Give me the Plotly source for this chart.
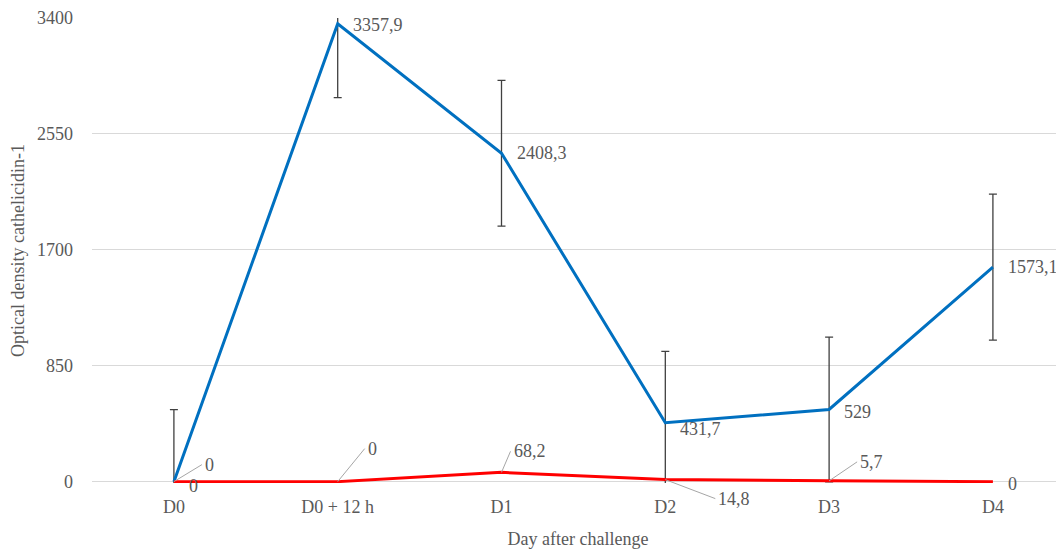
import plotly.graph_objects as go

categories = ["D0", "D0 + 12 h", "D1", "D2", "D3", "D4"]
blue_values = [0, 3357.9, 2408.3, 431.7, 529, 1573.1]
blue_errors = [528, 542, 535, 523, 531, 535]
red_values = [0, 0, 68.2, 14.8, 5.7, 0]
y_ticks = [0, 850, 1700, 2550, 3400]

FONT = "Liberation Serif"
GRAY = "#595959"
BLUE = "#0070C0"
RED = "#FF0000"
FS = 18

def fmt(v):
    return f"{v:g}".replace(".", ",")

x_idx = list(range(len(categories)))

fig = go.Figure()
fig.add_trace(go.Scatter(
    x=x_idx, y=blue_values, mode="lines",
    line=dict(color=BLUE, width=3),
    error_y=dict(type="data", array=blue_errors, symmetric=True,
                 color="#404040", thickness=1.3, width=4),
    showlegend=False, hoverinfo="skip"))
fig.add_trace(go.Scatter(
    x=x_idx, y=red_values, mode="lines",
    line=dict(color=RED, width=3),
    showlegend=False, hoverinfo="skip"))

annotations = []
# blue labels (right of point)
blue_offsets = [(13, 4), (13, 1), (13, 0), (13, 6), (13, 2), (13, 0)]
for i, v in enumerate(blue_values):
    dx, dy = blue_offsets[i]
    annotations.append(dict(
        x=i, y=v, xref="x", yref="y", text=fmt(v), showarrow=False,
        xanchor="left", yanchor="middle", xshift=dx, yshift=-dy,
        font=dict(family=FONT, size=FS, color=GRAY)))

# red labels with leader lines
red_offsets = [(28, -17), (27, -33), (9, -21), (50, 19), (28, -19), None]
for i, v in enumerate(red_values):
    off = red_offsets[i]
    if off is None:
        annotations.append(dict(
            x=i, y=v, xref="x", yref="y", text=fmt(v), showarrow=False,
            xanchor="left", yanchor="middle", xshift=13, yshift=-2,
            font=dict(family=FONT, size=FS, color=GRAY)))
    else:
        annotations.append(dict(
            x=i, y=v, xref="x", yref="y", text=fmt(v), showarrow=True,
            arrowhead=0, arrowwidth=1, arrowcolor="#A6A6A6",
            ax=off[0], ay=off[1], xanchor="left", yanchor="middle",
            standoff=0, startstandoff=0, borderpad=2,
            font=dict(family=FONT, size=FS, color=GRAY)))

fig.update_layout(
    width=1056, height=542,
    margin=dict(l=84, r=0, t=10, b=67),
    paper_bgcolor="white", plot_bgcolor="white",
    font=dict(family=FONT, size=FS, color=GRAY),
    annotations=annotations,
    xaxis=dict(
        range=[-0.5, 5.434], tickvals=x_idx, ticktext=categories,
        showgrid=False, zeroline=False, showline=False,
        ticks="", ticklabelstandoff=11,
        tickfont=dict(family=FONT, size=FS, color=GRAY),
        title=dict(text="Day after challenge", standoff=16,
                   font=dict(family=FONT, size=FS, color=GRAY))),
    yaxis=dict(
        range=[-10, 3400], tickvals=y_ticks,
        ticktext=[str(t) for t in y_ticks],
        showgrid=True, gridcolor="#D9D9D9", gridwidth=1,
        zeroline=False, showline=False, ticks="",
        ticklabelstandoff=18,
        tickfont=dict(family=FONT, size=FS, color=GRAY),
        title=dict(text="Optical density cathelicidin-1", standoff=11,
                   font=dict(family=FONT, size=FS, color=GRAY))),
)

fig.write_html("out.html")
